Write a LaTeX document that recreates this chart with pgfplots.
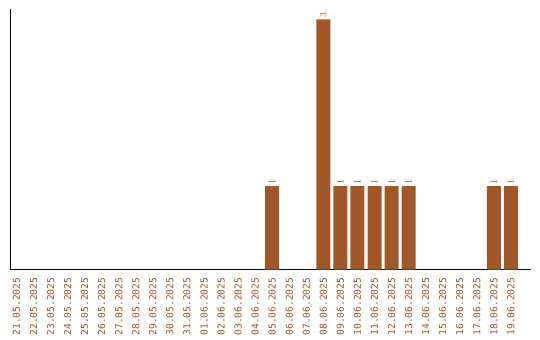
\documentclass[border=0pt]{standalone}
\usepackage{pgfplots}
\pgfplotsset{compat=1.18}
\usepackage{fontspec}
\setmonofont{DejaVu Sans Mono}
\definecolor{barc}{RGB}{160,87,42}
\definecolor{txtc}{RGB}{160,82,45}
\begin{document}
\begin{tikzpicture}
\begin{axis}[
  at={(10.5bp,70.5bp)}, anchor=south west,
  scale only axis, width=520bp, height=260bp,
  xmin=-0.35, xmax=30.15, ymin=0, ymax=3.12,
  axis x line*=bottom, axis y line*=left,
  axis line style={-, black, line width=0.9bp},
  ytick=\empty,
  xtick={0,...,29},
  xticklabels={21.05.2025,22.05.2025,23.05.2025,24.05.2025,25.05.2025,26.05.2025,27.05.2025,28.05.2025,29.05.2025,30.05.2025,31.05.2025,01.06.2025,02.06.2025,03.06.2025,04.06.2025,05.06.2025,06.06.2025,07.06.2025,08.06.2025,09.06.2025,10.06.2025,11.06.2025,12.06.2025,13.06.2025,14.06.2025,15.06.2025,16.06.2025,17.06.2025,18.06.2025,19.06.2025},
  x tick label style={rotate=90, anchor=east, font=\fontsize{9.6bp}{10bp}\ttfamily, text=txtc, inner sep=0pt, xshift=0bp},
  xticklabel shift=8bp,
  major tick length=0pt,
  ybar, bar width=14bp, bar shift=0pt,
  nodes near coords,
  every node near coord/.append style={rotate=90, anchor=west, font=\fontsize{9.6bp}{10bp}\ttfamily, text=txtc, inner sep=1.5bp},
]
\addplot[fill=barc, draw=none] coordinates {
(15,1) (18,3) (19,1) (20,1) (21,1) (22,1) (23,1) (28,1) (29,1)
};
\end{axis}
\path[use as bounding box] (0,0) rectangle (540bp,340bp);
\end{tikzpicture}
\end{document}
